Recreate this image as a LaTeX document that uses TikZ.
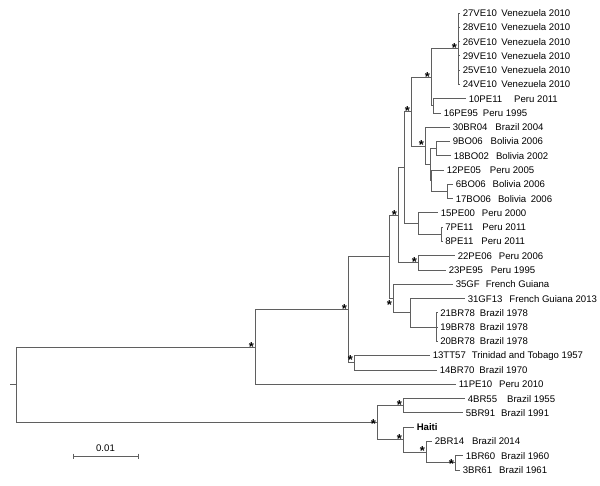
\documentclass[tikz,border=0pt]{standalone}
\usepackage{fontspec}
\setmainfont{Liberation Sans}
\usetikzlibrary{positioning}

\definecolor{treegray}{RGB}{95,95,95}
\newcommand{\tx}[3]{#1\hspace{#2pt}#3}

\begin{document}
\begin{tikzpicture}[x=1pt,y=-1pt,
    branch/.style={draw=treegray,line width=1pt},
    elbow/.style={branch,to path={|- (\tikztotarget)}},
    taxon/.style={anchor=west,inner xsep=2.6pt,inner ysep=0pt,font=\fontsize{9.6}{11}\selectfont},
    sig/.style={inner sep=0pt,font=\fontsize{13}{13}\selectfont\bfseries,xshift=-3.5pt,yshift=0.6pt}]
  \useasboundingbox (0,0) rectangle (600,485);

  % internal nodes
  \coordinate (stub) at (10,384.9);
  \coordinate (root) at (16,384.9);
  \coordinate (A) at (255,347.2);
  \coordinate (B) at (348,309.9);
  \coordinate (T) at (354,362.9);
  \coordinate (C) at (389.5,256.9);
  \coordinate (D) at (398,215.2);
  \coordinate (E) at (404.5,167.6);
  \coordinate (F) at (411,111.6);
  \coordinate (G) at (431,77.3);
  \coordinate (VE) at (458,48.7);
  \coordinate (H) at (433,105.8);
  \coordinate (I) at (425,146.0);
  \coordinate (J) at (430,164.7);
  \coordinate (J1) at (436,148.7);
  \coordinate (J2) at (431,180.8);
  \coordinate (J3) at (447,191.5);
  \coordinate (Q) at (418,223.6);
  \coordinate (R) at (441.5,234.3);
  \coordinate (P) at (418,262.9);
  \coordinate (L) at (393,298.6);
  \coordinate (M) at (410,312.9);
  \coordinate (N) at (436.5,327.2);
  \coordinate (K) at (377,422.7);
  \coordinate (U) at (403,405.7);
  \coordinate (V) at (403,439.6);
  \coordinate (W) at (426,452.1);
  \coordinate (X) at (455,462.8);

  % leaves
  \node[taxon] (ve27) at (460,13.0) {\tx{27VE10}{4.5}{Venezuela 2010}};
  \node[taxon] (ve28) at (460,27.3) {\tx{28VE10}{4.5}{Venezuela 2010}};
  \node[taxon] (ve26) at (460,41.6) {\tx{26VE10}{4.5}{Venezuela 2010}};
  \node[taxon] (ve29) at (460,55.8) {\tx{29VE10}{4.5}{Venezuela 2010}};
  \node[taxon] (ve25) at (460,70.1) {\tx{25VE10}{4.5}{Venezuela 2010}};
  \node[taxon] (ve24) at (460,84.4) {\tx{24VE10}{4.5}{Venezuela 2010}};
  \node[taxon] (pe11a) at (466,98.7) {\tx{10PE11}{12}{Peru 2011}};
  \node[taxon] (pe95a) at (441,113.0) {\tx{16PE95}{5}{Peru 1995}};
  \node[taxon] (br04) at (450,127.2) {\tx{30BR04}{8}{Brazil 2004}};
  \node[taxon] (bo06a) at (450,141.5) {\tx{9BO06}{8}{Bolivia 2006}};
  \node[taxon] (bo02) at (451,155.8) {\tx{18BO02}{7}{Bolivia 2002}};
  \node[taxon] (pe05) at (444,170.1) {\tx{12PE05}{9}{Peru 2005}};
  \node[taxon] (bo06b) at (453,184.4) {\tx{6BO06}{7}{Bolivia 2006}};
  \node[taxon] (bo06c) at (453,198.6) {\tx{17BO06}{7}{\tx{Bolivia}{4.5}{2006}}};
  \node[taxon] (pe00) at (438,212.9) {\tx{15PE00}{7}{Peru 2000}};
  \node[taxon] (pe11b) at (442.5,227.2) {\tx{7PE11}{9}{Peru 2011}};
  \node[taxon] (pe11c) at (442.5,241.5) {\tx{8PE11}{8}{Peru 2011}};
  \node[taxon] (pe06) at (455,255.8) {\tx{22PE06}{7}{Peru 2006}};
  \node[taxon] (pe95b) at (446,270.0) {\tx{23PE95}{8}{Peru 1995}};
  \node[taxon] (gf) at (453,284.3) {\tx{35GF}{6}{French Guiana}};
  \node[taxon] (gf13) at (465,298.6) {\tx{31GF13}{7}{French Guiana 2013}};
  \node[taxon] (br78a) at (437.5,312.9) {\tx{21BR78}{5}{Brazil 1978}};
  \node[taxon] (br78b) at (437.5,327.2) {\tx{19BR78}{5}{Brazil 1978}};
  \node[taxon] (br78c) at (437.5,341.4) {\tx{20BR78}{5}{Brazil 1978}};
  \node[taxon] (tt57) at (430,355.7) {\tx{13TT57}{6}{Trinidad and Tobago 1957}};
  \node[taxon] (br70) at (437,370.0) {\tx{14BR70}{5}{Brazil 1970}};
  \node[taxon] (pe10) at (456,384.3) {\tx{11PE10}{7}{Peru 2010}};
  \node[taxon] (br55) at (465,398.6) {\tx{4BR55}{10}{Brazil 1955}};
  \node[taxon] (br91) at (463,412.8) {\tx{5BR91}{6}{Brazil 1991}};
  \node[taxon,font=\fontsize{9.6}{11}\selectfont\bfseries] (haiti) at (414,427.1) {Haiti};
  \node[taxon] (br14) at (432,441.4) {\tx{2BR14}{8}{Brazil 2014}};
  \node[taxon] (br60) at (463,455.7) {\tx{1BR60}{6}{Brazil 1960}};
  \node[taxon] (br61) at (460,470.0) {\tx{3BR61}{7}{Brazil 1961}};

  % branches
  \draw[branch] (stub) -- (root);
  \path (root) edge[elbow] (A) edge[elbow] (K);
  \path (A) edge[elbow] (B) edge[elbow] (pe10);
  \path (B) edge[elbow] (C) edge[elbow] (T);
  \path (T) edge[elbow] (tt57) edge[elbow] (br70);
  \path (C) edge[elbow] (D) edge[elbow] (L);
  \path (D) edge[elbow] (E) edge[elbow] (P);
  \path (E) edge[elbow] (F) edge[elbow] (Q);
  \path (F) edge[elbow] (G) edge[elbow] (I);
  \path (G) edge[elbow] (VE) edge[elbow] (H);
  \path (VE) edge[elbow] (ve27) edge[elbow] (ve28) edge[elbow] (ve26)
             edge[elbow] (ve29) edge[elbow] (ve25) edge[elbow] (ve24);
  \path (H) edge[elbow] (pe11a) edge[elbow] (pe95a);
  \path (I) edge[elbow] (br04) edge[elbow] (J);
  \path (J) edge[elbow] (J1) edge[elbow] (J2);
  \path (J1) edge[elbow] (bo06a) edge[elbow] (bo02);
  \path (J2) edge[elbow] (pe05) edge[elbow] (J3);
  \path (J3) edge[elbow] (bo06b) edge[elbow] (bo06c);
  \path (Q) edge[elbow] (pe00) edge[elbow] (R);
  \path (R) edge[elbow] (pe11b) edge[elbow] (pe11c);
  \path (P) edge[elbow] (pe06) edge[elbow] (pe95b);
  \path (L) edge[elbow] (gf) edge[elbow] (M);
  \path (M) edge[elbow] (gf13) edge[elbow] (N);
  \path (N) edge[elbow] (br78a) edge[elbow] (br78b) edge[elbow] (br78c);
  \path (K) edge[elbow] (U) edge[elbow] (V);
  \path (U) edge[elbow] (br55) edge[elbow] (br91);
  \path (V) edge[elbow] (haiti) edge[elbow] (W);
  \path (W) edge[elbow] (br14) edge[elbow] (X);
  \path (X) edge[elbow] (br60) edge[elbow] (br61);

  % support marks
  \node[sig] (sA) at (A) {*};
  \node[sig] (sB) at (B) {*};
  \node[sig,yshift=2pt] (sT) at (T) {*};
  \node[sig] (sD) at (D) {*};
  \node[sig,yshift=-7.5pt] (sL) at (L) {*};
  \node[sig] (sF) at (F) {*};
  \node[sig] (sG) at (G) {*};
  \node[sig] (sVE) at (VE) {*};
  \node[sig] (sI) at (I) {*};
  \node[sig] (sP) at (P) {*};
  \node[sig,yshift=-1.5pt] (sK) at (K) {*};
  \node[sig] (sU) at (U) {*};
  \node[sig] (sV) at (V) {*};
  \node[sig] (sW) at (W) {*};
  \node[sig,yshift=-2pt] (sX) at (X) {*};

  % scale bar
  \coordinate (bar0) at (73,456);
  \coordinate (bar1) at (138,456);
  \coordinate (barm) at (105.5,456);
  \draw[branch] (bar0) -- (bar1);
  \draw[branch] ([yshift=2.5pt]bar0) -- ([yshift=-2.5pt]bar0);
  \draw[branch] ([yshift=2.5pt]bar1) -- ([yshift=-2.5pt]bar1);
  \node[inner sep=0pt,font=\fontsize{9.6}{11}\selectfont,above=4.5pt of barm] (barlab) {0.01};
\end{tikzpicture}
\end{document}
